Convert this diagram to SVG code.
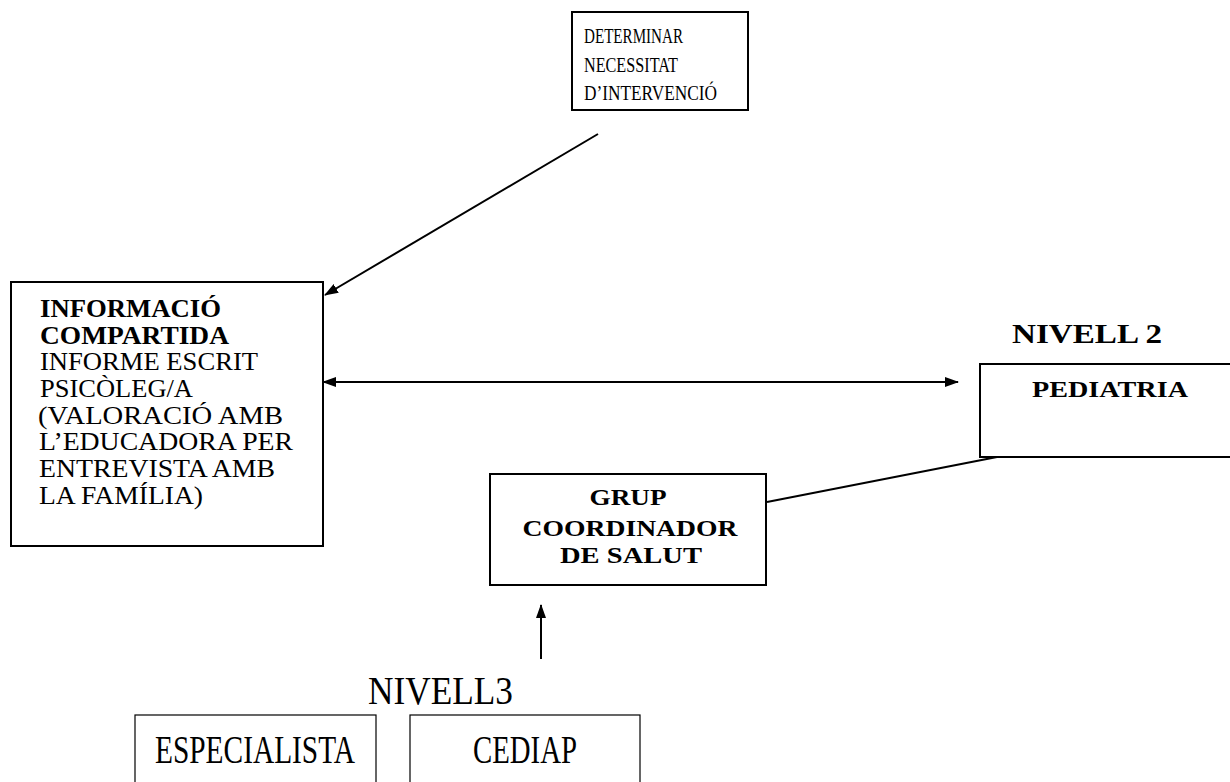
<svg xmlns="http://www.w3.org/2000/svg" width="1230" height="782" viewBox="0 0 1230 782">
<defs>
<style>
.box{fill:none;stroke:#000;stroke-width:2}
.thin{fill:none;stroke:#000;stroke-width:1.2}
text{font-family:'Liberation Serif','Times New Roman',serif;fill:#000}
.b{font-weight:bold}
.c{stroke:#000;stroke-width:2;fill:none}
</style>
<marker id="ah" viewBox="0 0 14 10" refX="13" refY="5" markerWidth="14" markerHeight="10" markerUnits="userSpaceOnUse" orient="auto-start-reverse">
<path d="M0,0 L14,5 L0,10 Z" fill="#000"/>
</marker>
</defs>
<rect width="1230" height="782" fill="#fff"/>
<g id="determinar">
<rect class="box" x="572" y="12" width="176" height="98"/>
<text font-size="21" x="584" y="43" textLength="99" lengthAdjust="spacingAndGlyphs">DETERMINAR</text>
<text font-size="21" x="584" y="72" textLength="94" lengthAdjust="spacingAndGlyphs">NECESSITAT</text>
<text font-size="21" x="584" y="100" textLength="133" lengthAdjust="spacingAndGlyphs">D’INTERVENCIÓ</text>
</g>
<g id="informacio">
<rect class="box" x="11" y="282" width="312" height="264"/>
<text class="b" font-size="25" x="40" y="317" textLength="181" lengthAdjust="spacingAndGlyphs">INFORMACIÓ</text>
<text class="b" font-size="25" x="40" y="344" textLength="189" lengthAdjust="spacingAndGlyphs">COMPARTIDA</text>
<text font-size="25" x="40" y="370" textLength="218" lengthAdjust="spacingAndGlyphs">INFORME ESCRIT</text>
<text font-size="25" x="40" y="397" textLength="153" lengthAdjust="spacingAndGlyphs">PSICÒLEG/A</text>
<text font-size="25" x="38" y="424" textLength="245" lengthAdjust="spacingAndGlyphs">(VALORACIÓ AMB</text>
<text font-size="25" x="39" y="450" textLength="254" lengthAdjust="spacingAndGlyphs">L’EDUCADORA PER</text>
<text font-size="25" x="39" y="477" textLength="236" lengthAdjust="spacingAndGlyphs">ENTREVISTA AMB</text>
<text font-size="25" x="39" y="504" textLength="164" lengthAdjust="spacingAndGlyphs">LA FAMÍLIA)</text>
</g>
<g id="nivell2">
<text class="b" font-size="27" x="1012" y="343" textLength="150" lengthAdjust="spacingAndGlyphs">NIVELL 2</text>
</g>
<g id="pediatria">
<rect class="box" x="980" y="364" width="270" height="93"/>
<text class="b" font-size="24" x="1032" y="397" textLength="156" lengthAdjust="spacingAndGlyphs">PEDIATRIA</text>
</g>
<g id="grup">
<rect class="box" x="490" y="474" width="276" height="111"/>
<text class="b" font-size="23" x="628" y="505" text-anchor="middle" textLength="77" lengthAdjust="spacingAndGlyphs">GRUP</text>
<text class="b" font-size="23" x="630" y="536" text-anchor="middle" textLength="215" lengthAdjust="spacingAndGlyphs">COORDINADOR</text>
<text class="b" font-size="23" x="631" y="563" text-anchor="middle" textLength="142" lengthAdjust="spacingAndGlyphs">DE SALUT</text>
</g>
<g id="nivell3">
<text font-size="40" x="368" y="704" textLength="145" lengthAdjust="spacingAndGlyphs">NIVELL3</text>
</g>
<g id="especialista">
<rect class="thin" x="135" y="715" width="241" height="80"/>
<text font-size="40" x="155" y="763" textLength="200" lengthAdjust="spacingAndGlyphs">ESPECIALISTA</text>
</g>
<g id="cediap">
<rect class="thin" x="410" y="715" width="230" height="80"/>
<text font-size="40" x="473" y="763" textLength="104" lengthAdjust="spacingAndGlyphs">CEDIAP</text>
</g>
<g id="connectors">
<line class="c" x1="598" y1="134" x2="325" y2="295" marker-end="url(#ah)"/>
<line class="c" x1="323" y1="382" x2="958" y2="382" marker-start="url(#ah)" marker-end="url(#ah)"/>
<line class="c" x1="767" y1="502" x2="997" y2="457"/>
<line class="c" x1="541" y1="659" x2="541" y2="605" stroke-width="1.5" marker-end="url(#ah)"/>
</g>
</svg>
